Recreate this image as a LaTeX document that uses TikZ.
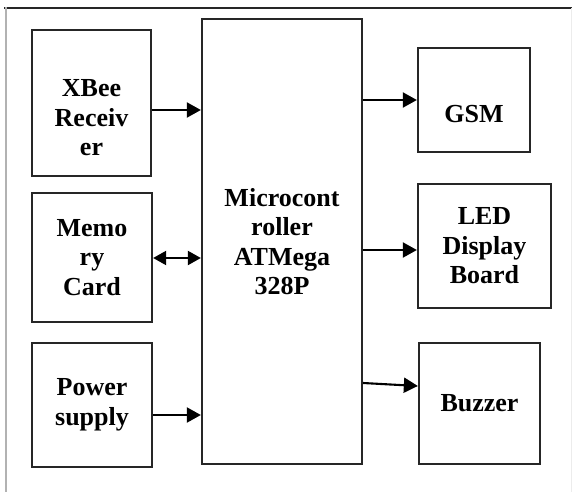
\documentclass[tikz,border=0pt]{standalone}
\usepackage{fontspec}
\setmainfont{Liberation Serif}
\usetikzlibrary{arrows.meta}
\begin{document}
\begin{tikzpicture}[x=1pt,y=1pt,
  blk/.style={draw=black!85,line width=2.3pt,rectangle,inner sep=0pt,fill=none},
  lbl/.style={align=center,font=\fontsize{26}{29.5}\selectfont\bfseries,text=black,inner sep=0pt},
  arr/.style={line width=2.1pt,draw=black,-{Triangle[length=14pt,width=15pt]}},
  darr/.style={line width=2.1pt,draw=black,{Triangle[length=13pt,width=14pt]}-{Triangle[length=13pt,width=14pt]}}]
\useasboundingbox (0,0) rectangle (572,-492);
\fill[white] (0,0) rectangle (572,-492);
% frame
\draw[line width=1.6pt,black!85] (4,-8) -- (572,-8);
\draw[line width=2.4pt,gray!60] (6,-7) -- (6,-492);
\draw[line width=0.8pt,gray!15] (571,-8) -- (571,-492);
% boxes
\node[blk,minimum width=119,minimum height=146] (xbee) at (91.5,-103) {};
\node[blk,minimum width=120,minimum height=129] (mem) at (92,-257.5) {};
\node[blk,minimum width=120,minimum height=124] (pow) at (92,-405) {};
\node[blk,minimum width=160,minimum height=445] (mcu) at (282,-241.5) {};
\node[blk,minimum width=112,minimum height=104] (gsm) at (474,-100) {};
\node[blk,minimum width=133,minimum height=124] (led) at (484.5,-246) {};
\node[blk,minimum width=121,minimum height=121] (buz) at (479.5,-403.5) {};
% labels
\node[lbl] (txbee) at ([yshift=-15]xbee.center) {XBee\\Receiv\\er};
\node[lbl] (tmem) at (mem.center) {Memo\\ry\\Card};
\node[lbl] (tpow) at (pow.center) {Power\\supply};
\node[lbl] (tmcu) at (mcu.center) {Microcont\\roller\\ATMega\\328P};
\node[lbl] (tgsm) at ([yshift=-14]gsm.center) {GSM};
\node[lbl] (tled) at (led.center) {LED\\Display\\Board};
\node[lbl] (tbuz) at (buz.center) {Buzzer};
% connectors
\coordinate (a1) at (0,-110);
\coordinate (a2) at (0,-258);
\coordinate (a3) at (0,-415);
\coordinate (b1) at (0,-100);
\coordinate (b2) at (0,-250);
\coordinate (b3s) at (0,-383);
\coordinate (b3e) at (0,-386);
\draw[arr] (xbee.east |- a1) -- (mcu.west |- a1);
\draw[darr] (mem.east |- a2) -- (mcu.west |- a2);
\draw[arr] (pow.east |- a3) -- (mcu.west |- a3);
\draw[arr] (mcu.east |- b1) -- (gsm.west |- b1);
\draw[arr] (mcu.east |- b2) -- (led.west |- b2);
\draw[arr] (mcu.east |- b3s) -- (buz.west |- b3e);
\end{tikzpicture}
\end{document}
